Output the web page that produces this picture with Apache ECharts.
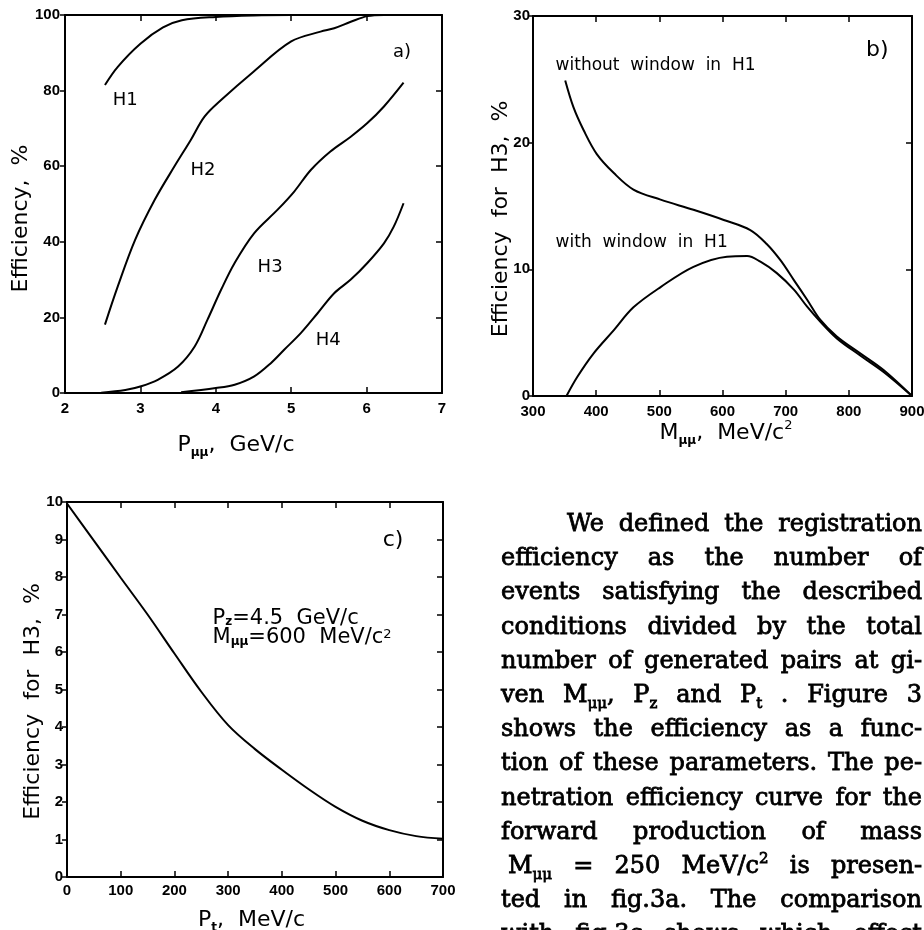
<!DOCTYPE html>
<html>
<head>
<meta charset="utf-8">
<title>Fig. 3 - registration efficiency</title>
<script src="https://cdn.jsdelivr.net/npm/echarts@6/dist/echarts.min.js"></script>
<style>
  html, body { margin: 0; padding: 0; background: #fff; }
  #wrap { position: relative; width: 924px; height: 930px; overflow: hidden; }
  #chart { position: absolute; left: 0; top: 0; width: 924px; height: 930px; }
  #text {
    position: absolute; left: 501px; top: 506px; width: 421px;
    font-family: 'DejaVu Serif', serif; font-size: 24px; line-height: 34.2px;
    color: #000; -webkit-text-stroke: 0.8px #000;
  }
  #text div { white-space: nowrap; text-align: justify; text-align-last: justify; }
  #text .indent { padding-left: 66px; }
  #text .small-indent { padding-left: 7px; }
  #text sub { font-size: 15px; vertical-align: -6px; line-height: 0; }
  #text sup { font-size: 15px; vertical-align: 10px; line-height: 0; }
</style>
</head>
<body>
<div id="wrap">
  <div id="chart"></div>
  <div id="text">
    <div class="indent">We defined the registration</div>
    <div>efficiency as the number of</div>
    <div>events satisfying the described</div>
    <div>conditions divided by the total</div>
    <div>number of generated pairs at gi-</div>
    <div>ven M<sub>μμ</sub>, P<sub>z</sub> and P<sub>t</sub> . Figure 3</div>
    <div>shows the efficiency as a func-</div>
    <div>tion of these parameters. The pe-</div>
    <div>netration efficiency curve for the</div>
    <div>forward production of mass</div>
    <div class="small-indent">M<sub>μμ</sub> = 250 MeV/c<sup>2</sup> is presen-</div>
    <div>ted in fig.3a. The comparison</div>
    <div>with fig.3c shows which effect</div>
  </div>
</div>
<script>
// ---- fig.3a: efficiency vs P_mumu (GeV/c), hodoscopes H1..H4 ----
const pTicks = [2, 3, 4, 5, 6, 7];
const effTicksA = [0, 20, 40, 60, 80, 100];
const h1P   = [2.53, 2.7, 3.0, 3.3, 3.55, 4.0, 4.5, 5.0, 6.5];
const h1Eff = [81.5, 86.3, 92.4, 96.7, 98.6, 99.5, 99.9, 100, 100];
const h2P   = [2.53, 2.7, 2.93, 3.19, 3.45, 3.67, 3.85, 4.07, 4.5, 5.0, 5.39, 5.57, 5.79, 6.01, 6.23, 6.45];
const h2Eff = [18.1, 28.2, 40.5, 51.1, 59.9, 67, 73.1, 77.5, 85, 93, 95.6, 96.5, 98.2, 99.7, 100, 100];
const h3P   = [2.48, 2.8, 3.01, 3.23, 3.5, 3.72, 3.89, 4.07, 4.25, 4.51, 4.82, 5.04, 5.26, 5.52, 5.79, 6.01, 6.23, 6.49];
const h3Eff = [0.1, 0.8, 1.8, 3.5, 7, 12.3, 19.4, 27.3, 34.4, 42.3, 48.5, 53.3, 59, 63.9, 67.8, 71.4, 75.8, 82.1];
const h4P   = [3.54, 4.0, 4.25, 4.51, 4.73, 4.91, 5.13, 5.35, 5.57, 5.79, 6.01, 6.23, 6.36, 6.49];
const h4Eff = [0.2, 1.3, 2.2, 4.4, 7.9, 11.5, 15.9, 21.1, 26.4, 30, 34.4, 39.6, 44, 50.2];

// ---- fig.3b: efficiency for H3 vs M_mumu (MeV/c^2) ----
const mTicks = [300, 400, 500, 600, 700, 800, 900];
const effTicksB = [0, 10, 20, 30];
const noWinM   = [351, 364, 380, 401, 428, 459, 502, 554, 602, 644, 670, 692, 713, 734, 755, 781, 818, 855, 900];
const noWinEff = [24.9, 22.8, 21, 19.1, 17.6, 16.3, 15.5, 14.7, 13.9, 13.1, 12.0, 10.7, 9.15, 7.6, 6.0, 4.7, 3.37, 2.05, 0];
const winM   = [353, 370, 396, 428, 459, 502, 554, 607, 639, 660, 686, 713, 734, 755, 781, 818, 855, 900];
const winEff = [0, 1.5, 3.37, 5.2, 7.0, 8.6, 10.2, 11.0, 11.05, 10.6, 9.7, 8.4, 7.05, 5.86, 4.55, 3.2, 1.9, 0];

// ---- fig.3c: efficiency for H3 vs P_t (MeV/c) ----
const ptTicks = [0, 100, 200, 300, 400, 500, 600, 700];
const effTicksC = [0, 1, 2, 3, 4, 5, 6, 7, 8, 9, 10];
const ptVals = [0, 50, 100, 150, 200, 250, 300, 350, 400, 450, 500, 550, 600, 650, 700];
const ptEff  = [9.96, 8.97, 7.98, 7.0, 5.96, 4.94, 4.05, 3.41, 2.86, 2.34, 1.87, 1.5, 1.25, 1.09, 1.02];

// text inside the panels: [text, x, y] in data units
const notesA = [['H1', 2.80, 77.5], ['H2', 3.83, 59], ['H3', 4.72, 33.3], ['H4', 5.49, 14.0], ['a)', 6.47, 90.2]];
const notesB = [['b)', 845, 27.3]];
const notesBLeft = [['without  window  in  H1', 335, 26.05], ['with  window  in  H1', 335, 12.08]];
const notesC = [['c)', 607, 8.99]];
const notesCLeft = [['P{sub|z}=4.5  GeV/c', 270, 6.9], ['M{sub|μμ}=600  MeV/c{sup|2}', 270, 6.38]];

const zip = (xs, ys) => xs.map((x, i) => [x, ys[i]]);

const chart = echarts.init(document.getElementById('chart'));

const sans = 'DejaVu Sans';
const tickFont = { color: '#000', fontFamily: 'Liberation Sans', fontWeight: 'bold', fontSize: 15 };
const rich = {
  sub: { fontFamily: sans, fontSize: 12, fontWeight: 'bold', color: '#000', lineHeight: 13, verticalAlign: 'bottom' },
  sup: { fontFamily: sans, fontSize: 13, color: '#000', lineHeight: 13, verticalAlign: 'top' }
};
const nameFont = { color: '#000', fontFamily: sans, fontSize: 22, lineHeight: 28, rich };

function valueAxis(gridIndex, ticks, position, extra) {
  return Object.assign({
    type: 'value', gridIndex, position,
    min: ticks[0], max: ticks[ticks.length - 1], interval: ticks[1] - ticks[0],
    splitLine: { show: false },
    axisLine: { show: true, onZero: false, lineStyle: { color: '#000', width: 2 } },
    axisTick: { show: true, inside: true, length: 6, lineStyle: { color: '#000', width: 1.5 } },
    axisLabel: { show: false }
  }, extra);
}

function bottomAxis(grid, ticks, name, gap, margin, pad) {
  return valueAxis(grid, ticks, 'bottom', {
    axisLabel: Object.assign({ margin }, tickFont),
    name, nameLocation: 'middle', nameGap: gap, nameMoveOverlap: false,
    nameTextStyle: Object.assign({ padding: pad }, nameFont)
  });
}

function leftAxis(grid, ticks, name, gap, margin, pad) {
  return valueAxis(grid, ticks, 'left', {
    axisTick: { show: true, inside: false, length: 5, lineStyle: { color: '#000', width: 1.5 } },
    axisLabel: Object.assign({ margin }, tickFont),
    name, nameLocation: 'middle', nameGap: gap, nameMoveOverlap: false,
    nameTextStyle: Object.assign({ padding: pad }, nameFont)
  });
}

function curve(grid, data) {
  return {
    type: 'line', xAxisIndex: grid * 2, yAxisIndex: grid * 2, data,
    smooth: 0.35, symbol: 'none', clip: true,
    lineStyle: { color: '#000', width: 2 }
  };
}

function notes(grid, list, position, size) {
  return {
    type: 'scatter', xAxisIndex: grid * 2, yAxisIndex: grid * 2, z: 5,
    symbolSize: 1, itemStyle: { color: 'rgba(0,0,0,0)', opacity: 1 },
    data: list.map(([t, x, y]) => ({ name: t, value: [x, y] })),
    label: {
      show: true, position, distance: 0, formatter: p => p.name, opacity: 1,
      color: '#000', fontFamily: sans, fontSize: size, lineHeight: 20, rich
    }
  };
}

chart.setOption({
  animation: false,
  backgroundColor: '#fff',
  grid: [
    { left: 65, top: 15, width: 377, height: 378, outerBoundsMode: 'none' },
    { left: 533, top: 16, width: 379, height: 380, outerBoundsMode: 'none' },
    { left: 67, top: 502, width: 376, height: 375, outerBoundsMode: 'none' }
  ],
  xAxis: [
    bottomAxis(0, pTicks, 'P{sub|μμ},  GeV/c', 38, 8, [0, 35, 0, 0]),
    valueAxis(0, pTicks, 'top'),
    bottomAxis(1, mTicks, 'M{sub|μμ},  MeV/c{sup|2}', 23, 8, [0, 0, 0, 7]),
    valueAxis(1, mTicks, 'top'),
    bottomAxis(2, ptTicks, 'P{sub|t},  MeV/c', 29, 6, [0, 7, 0, 0]),
    valueAxis(2, ptTicks, 'top')
  ],
  yAxis: [
    leftAxis(0, effTicksA, 'Efficiency,  %', 30, 5, [0, 29, 0, 0]),
    valueAxis(0, effTicksA, 'right'),
    leftAxis(1, effTicksB, 'Efficiency  for  H3,  %', 18, 3, [0, 26, 0, 0]),
    valueAxis(1, effTicksB, 'right'),
    leftAxis(2, effTicksC, 'Efficiency  for  H3,  %', 20, 4, [0, 24, 0, 0]),
    valueAxis(2, effTicksC, 'right')
  ],
  series: [
    curve(0, zip(h1P, h1Eff)),
    curve(0, zip(h2P, h2Eff)),
    curve(0, zip(h3P, h3Eff)),
    curve(0, zip(h4P, h4Eff)),
    curve(1, zip(noWinM, noWinEff)),
    curve(1, zip(winM, winEff)),
    curve(2, zip(ptVals, ptEff)),
    notes(0, notesA, 'inside', 18),
    notes(1, notesB, 'inside', 22),
    notes(1, notesBLeft, 'right', 17),
    notes(2, notesC, 'inside', 22),
    notes(2, notesCLeft, 'right', 21)
  ]
});
</script>
</body>
</html>
